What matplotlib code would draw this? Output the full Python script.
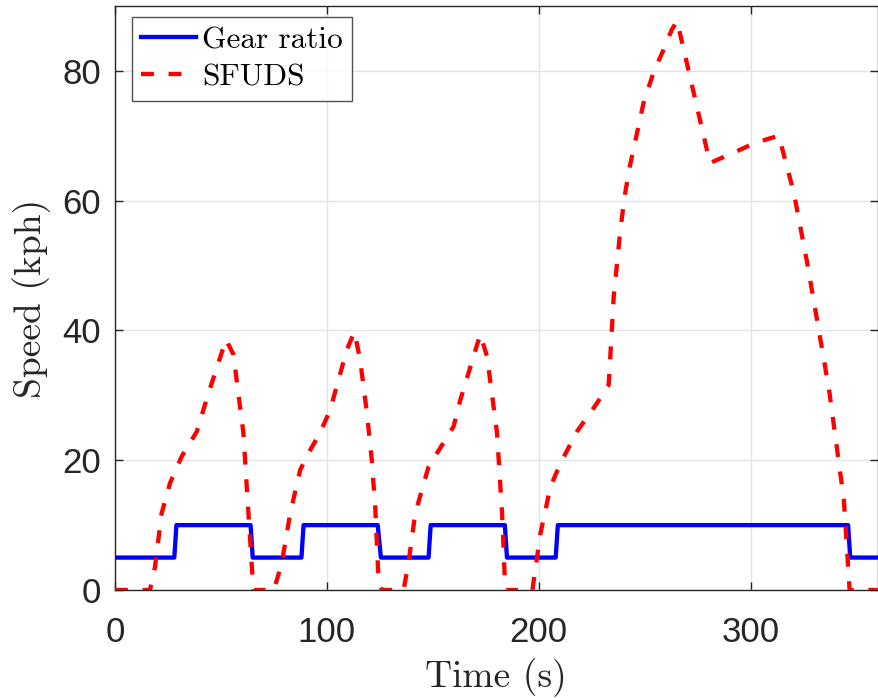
import matplotlib
matplotlib.use("Agg")
import matplotlib.pyplot as plt

# Gear ratio (step profile)
gear_t = [0, 28, 29, 64, 65, 88, 89, 124, 125.5, 148, 149, 184, 185, 208, 209, 346, 347, 360]
gear_v = [5, 5, 10, 10, 5, 5, 10, 10, 5, 5, 10, 10, 5, 5, 10, 10, 5, 5]

# SFUDS speed profile
sfuds_t = [0, 16.5, 18.9, 22, 26, 31.5, 38.6, 44.1, 52.4, 55.9, 60.6, 63, 65.3,
           75, 78.7, 82.7, 87.4, 91.3, 96.8, 101.6, 109.4, 113, 115.7, 118.9, 121.2, 122.8, 124.4, 126,
           136.2, 138.5, 141.7, 148, 152, 159.8, 163, 172.4, 175.6, 180.3, 182.7, 184.2,
           197, 200.8, 205.5, 210.2, 218, 227.5, 233, 235.4, 238.5, 240.7, 243, 249.4, 254, 258.8, 262.7, 265.3,
           280.8, 292, 300, 308, 313.3, 320.4, 326.7, 337, 344, 346.7, 360]
sfuds_v = [0, 0, 3.6, 11.8, 16.5, 20.6, 24.4, 30.3, 38.6, 36.3, 24.2, 11.8, 0,
           0, 4.1, 11.8, 18.5, 21.1, 24.2, 27.8, 37, 39.8, 35.5, 27.3, 20, 12.9, 1.5, 0,
           0, 4.1, 11.8, 19, 21.1, 25.2, 29.3, 39.4, 36, 24.2, 11.8, 0,
           0, 8.7, 15.9, 19.5, 24.4, 28.8, 31.6, 45.3, 55.5, 61, 65.3, 75, 79.6, 83.2, 86.3, 87.7,
           65.8, 67.4, 68.6, 69.5, 70, 61.2, 50.4, 30.9, 13.9, 0, 0]

x_ticks = [0, 100, 200, 300]
y_ticks = [0, 20, 40, 60, 80]

fig = plt.figure(figsize=(8.79, 6.98), dpi=100)
ax = fig.add_axes([0.1308, 0.1547, 0.8678, 0.8367])

ax.plot(gear_t, gear_v, color='#0000ff', lw=3.1, label='Gear ratio', zorder=3)
ax.plot(sfuds_t, sfuds_v, color='#ff0000', lw=3.1, linestyle=(0, (3.0, 3.4)),
        label='SFUDS', zorder=4)

ax.set_xlim(0, 360)
ax.set_ylim(0, 90)
ax.set_xticks(x_ticks)
ax.set_yticks(y_ticks)
ax.grid(True, color='#e3e3e3', lw=1.0)
ax.set_axisbelow(True)

for s in ax.spines.values():
    s.set_color('#262626')
    s.set_linewidth(1.0)

ax.tick_params(direction='in', length=6, width=1.0, colors='#262626',
               labelsize=25, top=True, right=True)
ax.tick_params(axis='x', pad=19)
ax.tick_params(axis='y', pad=10)
for lab in ax.get_xticklabels() + ax.get_yticklabels():
    lab.set_fontfamily('Liberation Sans')

ax.set_xlabel('Time (s)', fontfamily='cmr10', fontsize=27, color='#262626', labelpad=6)
ax.set_ylabel('Speed (kph)', fontfamily='cmr10', fontsize=27, color='#262626', labelpad=8)

leg = ax.legend(loc='upper left', bbox_to_anchor=(0.0219, 0.9817),
                prop={'family': 'cmr10', 'size': 22.5},
                frameon=True, fancybox=False, edgecolor='#262626',
                borderaxespad=0.0, handlelength=1.75, handletextpad=0.2,
                borderpad=0.3, labelspacing=0.3)
leg.get_frame().set_linewidth(1.0)

fig.savefig('out.png', dpi=100)
